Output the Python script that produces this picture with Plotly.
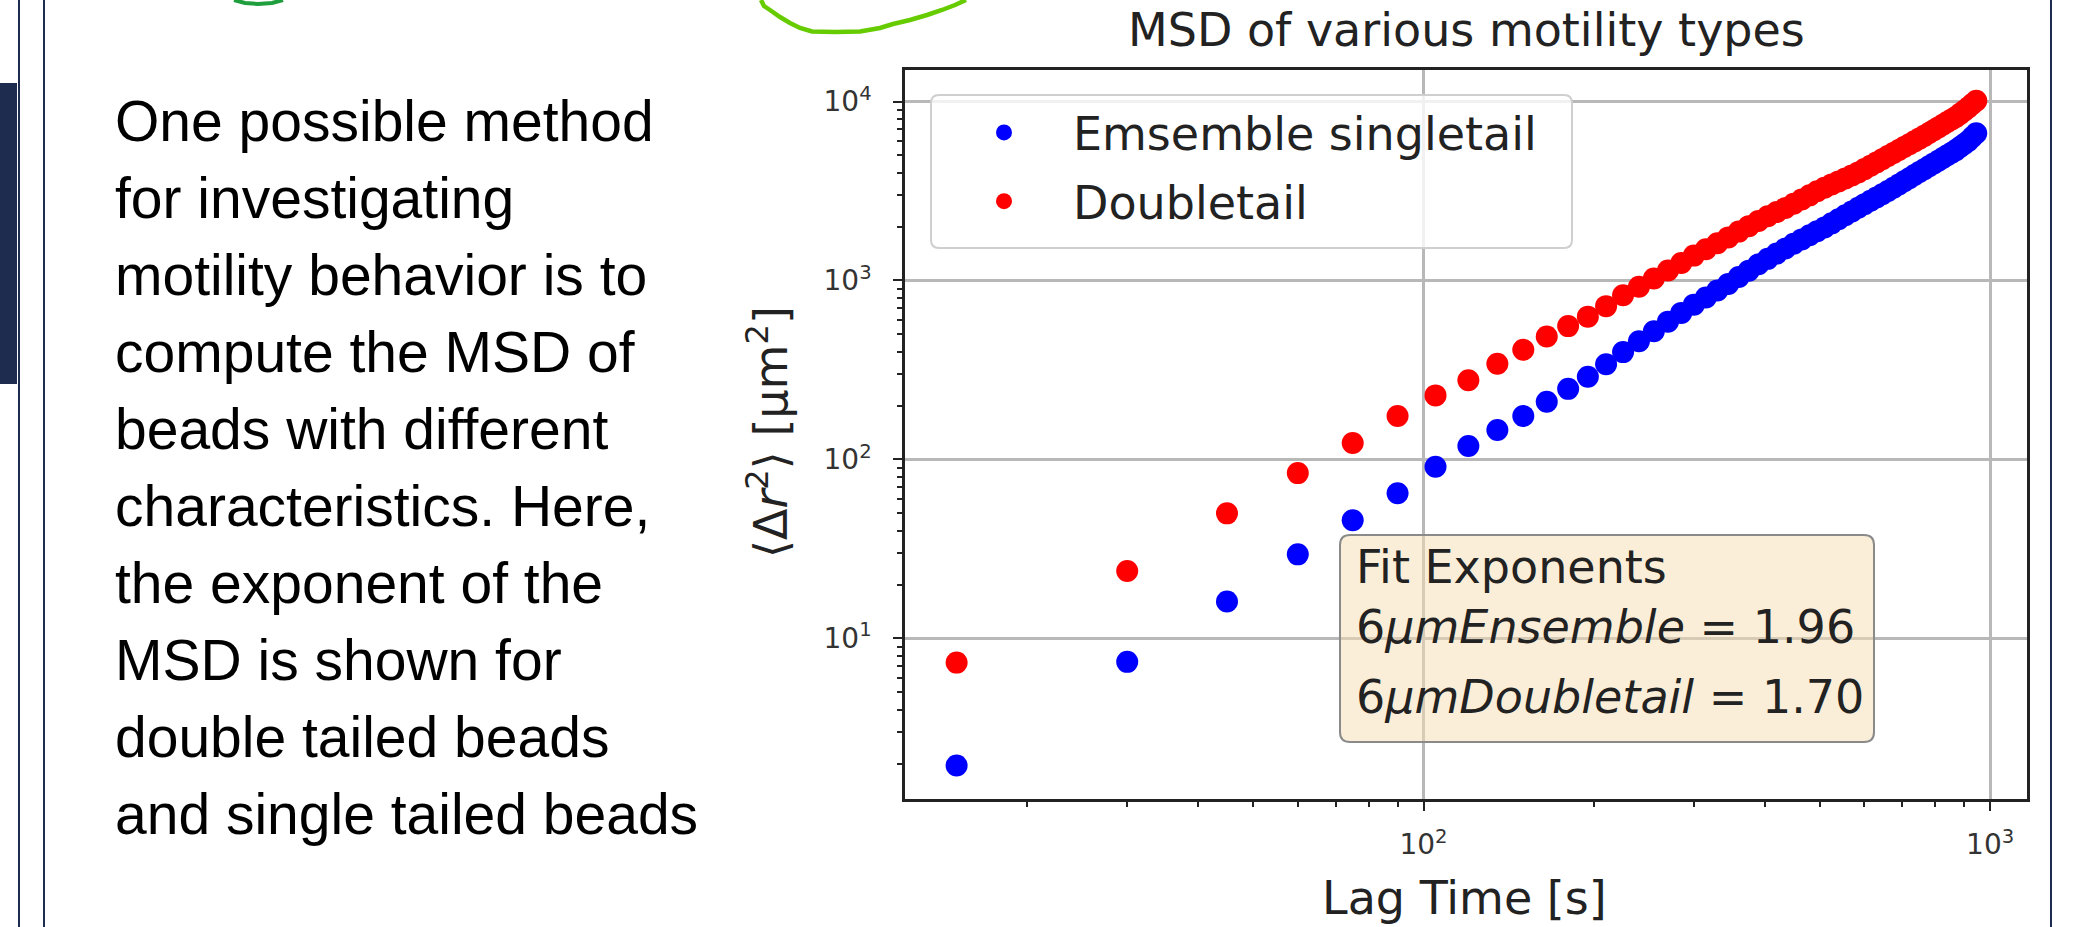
import plotly.graph_objects as go

W, H = 2084, 927

# ---------------- data ----------------
lag_time = [15, 30, 45, 60, 75, 90, 105, 120, 135, 150, 165, 180, 195, 210, 225, 240,
            255, 270, 285, 300, 315, 330, 345, 360, 375, 390, 405, 420, 435, 450, 465,
            480, 495, 510, 525, 540, 555, 570, 585, 600, 615, 630, 645, 660, 675, 690,
            705, 720, 735, 750, 765, 780, 795, 810, 825, 840, 855, 870, 885, 900, 915,
            930, 945]
msd_singletail = [1.95, 7.4, 16.1, 29.5, 45.8, 64.7, 91, 119, 146, 175, 210, 248, 290, 340,
                  398, 458, 520, 589, 659, 733, 804, 879, 957, 1045, 1135, 1231, 1321, 1413,
                  1509, 1604, 1697, 1791, 1887, 1977, 2085, 2197, 2312, 2431, 2552, 2670,
                  2789, 2911, 3034, 3162, 3296, 3436, 3581, 3728, 3880, 4033, 4188, 4345,
                  4506, 4670, 4833, 5003, 5176, 5350, 5570, 5795, 6015, 6330, 6640]
msd_doubletail = [7.33, 23.8, 50, 83.9, 123.6, 175, 228, 277, 343, 410, 487, 556, 628, 719,
                  826, 923, 1026, 1136, 1253, 1377, 1494, 1615, 1741, 1875, 2012, 2153, 2283,
                  2410, 2544, 2682, 2835, 2990, 3150, 3296, 3436, 3573, 3714, 3857, 4008,
                  4191, 4375, 4560, 4759, 4955, 5152, 5356, 5565, 5774, 5988, 6205, 6428,
                  6668, 6918, 7166, 7418, 7674, 7937, 8205, 8530, 8872, 9248, 9680, 10090]
series_names = ["Emsemble singletail", "Doubletail"]
fit_lines = ["Fit Exponents",
             "6<i>μmEnsemble</i> = 1.96",
             "6<i>μmDoubletail</i> = 1.70"]
x_major = [100, 1000]
x_major_text = ["10<sup>2</sup>", "10<sup>3</sup>"]
y_major = [10, 100, 1000, 10000]
y_major_text = ["10<sup>1</sup>", "10<sup>2</sup>", "10<sup>3</sup>", "10<sup>4</sup>"]
x_minor = [20, 30, 40, 50, 60, 70, 80, 90, 200, 300, 400, 500, 600, 700, 800, 900]
y_minor = [2, 3, 4, 5, 6, 7, 8, 9, 20, 30, 40, 50, 60, 70, 80, 90,
           200, 300, 400, 500, 600, 700, 800, 900, 2000, 3000, 4000, 5000, 6000, 7000, 8000, 9000]
slide_lines = ["One possible method", "for investigating", "motility behavior is to",
               "compute the MSD of", "beads with different", "characteristics. Here,",
               "the exponent of the", "MSD is shown for", "double tailed beads",
               "and single tailed beads"]
chart_title = "MSD of various motility types"
x_title = "Lag Time [s]"
y_title = "⟨Δ<i>r</i><sup>2</sup>⟩ [μm<sup>2</sup>]"


# ---------------- helpers (pixel -> paper) ----------------
def fx(x):
    return x / W


def fy(y):
    return 1 - y / H


def rounded_rect(x0, y0, x1, y1, r):
    p = [
        (x0 + r, y0), (x1 - r, y0), (x1, y0), (x1, y0 + r),
        (x1, y1 - r), (x1, y1), (x1 - r, y1),
        (x0 + r, y1), (x0, y1), (x0, y1 - r),
        (x0, y0 + r), (x0, y0), (x0 + r, y0),
    ]
    c = [(fx(a), fy(b)) for a, b in p]
    s = f"M {c[0][0]},{c[0][1]} L {c[1][0]},{c[1][1]} Q {c[2][0]},{c[2][1]} {c[3][0]},{c[3][1]} "
    s += f"L {c[4][0]},{c[4][1]} Q {c[5][0]},{c[5][1]} {c[6][0]},{c[6][1]} "
    s += f"L {c[7][0]},{c[7][1]} Q {c[8][0]},{c[8][1]} {c[9][0]},{c[9][1]} "
    s += f"L {c[10][0]},{c[10][1]} Q {c[11][0]},{c[11][1]} {c[12][0]},{c[12][1]} Z"
    return s


def poly(points):
    c = [(fx(a), fy(b)) for a, b in points]
    return "M " + " L ".join(f"{a},{b}" for a, b in c)


TXT = "#222222"
NAVY = "#1e2d4f"
DJ = "DejaVu Sans"

fig = go.Figure()
fig.add_trace(go.Scatter(x=lag_time, y=msd_singletail, mode="markers", name=series_names[0],
                         legendgroup="a",
                         marker=dict(color="#0000ff", size=22, line=dict(width=0))))
fig.add_trace(go.Scatter(x=lag_time, y=msd_doubletail, mode="markers", name=series_names[1],
                         legendgroup="b",
                         marker=dict(color="#ff0000", size=22, line=dict(width=0))))

axis_common = dict(
    type="log", showline=True, mirror=True, linecolor="#222222", linewidth=2.5,
    showgrid=True, gridcolor="#b8b8b8", gridwidth=2.5,
    ticks="outside", ticklen=9, tickwidth=2, tickcolor="#222222",
    tickfont=dict(family=DJ, size=28, color="#333333"), zeroline=False,
)

fig.update_layout(
    width=W, height=H, autosize=False,
    margin=dict(l=0, r=0, t=0, b=0),
    paper_bgcolor="white", plot_bgcolor="white",
    showlegend=True,
    xaxis=dict(axis_common, domain=[fx(905), fx(2027)], range=[1.085, 3.065],
               tickvals=x_major, ticktext=x_major_text, ticklabelstandoff=10,
               minor=dict(tickvals=x_minor, ticks="outside", ticklen=5, tickwidth=1.5,
                          tickcolor="#222222", showgrid=False)),
    yaxis=dict(axis_common, domain=[fy(799), fy(70)], range=[0.103, 4.176],
               tickvals=y_major, ticktext=y_major_text, ticklabelstandoff=16,
               minor=dict(tickvals=y_minor, ticks="outside", ticklen=5, tickwidth=1.5,
                          tickcolor="#222222", showgrid=False)),
    legend=dict(x=fx(935), y=fy(96), xanchor="left", yanchor="top",
                bgcolor="rgba(0,0,0,0)", borderwidth=0,
                font=dict(family=DJ, size=46, color=TXT),
                itemwidth=128, traceorder="grouped", tracegroupgap=6),
)

shapes = []
# slide decorations
shapes.append(dict(type="rect", xref="paper", yref="paper", x0=fx(0), x1=fx(17), y0=fy(384), y1=fy(83),
                   fillcolor=NAVY, line=dict(width=0), layer="above"))
for xl in (19, 44):
    shapes.append(dict(type="line", xref="paper", yref="paper", x0=fx(xl), x1=fx(xl), y0=0, y1=1,
                       line=dict(color=NAVY, width=2)))
shapes.append(dict(type="line", xref="paper", yref="paper", x0=fx(2051), x1=fx(2051), y0=0, y1=1,
                   line=dict(color=NAVY, width=2)))
# green pen scribbles
shapes.append(dict(type="path", xref="paper", yref="paper",
                   path=poly([(234, 0), (245, 3), (258, 4), (272, 3), (283, 0)]),
                   line=dict(color="#1f9e3e", width=4)))
shapes.append(dict(type="path", xref="paper", yref="paper",
                   path=poly([(761, 0), (764, 6), (770, 10), (780, 17), (790, 23), (800, 28),
                              (812, 31.5), (835, 32), (860, 31.5), (880, 28), (893, 24),
                              (910, 20), (927, 15), (942, 10), (955, 5), (966, 0)]),
                   line=dict(color="#66cc00", width=4.5)))
# legend box
shapes.append(dict(type="path", xref="paper", yref="paper", path=rounded_rect(931, 95, 1572, 248, 8),
                   fillcolor="rgba(255,255,255,0.8)", line=dict(color="#cfcfcf", width=2), layer="above"))
# fit exponents box
shapes.append(dict(type="path", xref="paper", yref="paper", path=rounded_rect(1340, 535, 1874, 742, 10),
                   fillcolor="rgba(245,222,179,0.5)", line=dict(color="#8a8a8a", width=2), layer="above"))
fig.update_layout(shapes=shapes)

ann = []
# slide text
for i, line in enumerate(slide_lines):
    base = 140 + 77 * i
    ann.append(dict(text=line, xref="paper", yref="paper", x=fx(113), y=fy(base - 19),
                    xanchor="left", yanchor="middle", showarrow=False,
                    font=dict(family="Liberation Sans", size=57, color="#000000")))
# chart title
ann.append(dict(text=chart_title, xref="paper", yref="paper", x=fx(1466), y=fy(30),
                xanchor="center", yanchor="middle", showarrow=False,
                font=dict(family=DJ, size=46, color=TXT)))
# axis titles
ann.append(dict(text=x_title, xref="paper", yref="paper", x=fx(1464), y=fy(898),
                xanchor="center", yanchor="middle", showarrow=False,
                font=dict(family=DJ, size=46, color=TXT)))
ann.append(dict(text=y_title, xref="paper", yref="paper", x=fx(768), y=fy(432),
                xanchor="center", yanchor="middle", showarrow=False, textangle=-90,
                font=dict(family=DJ, size=46, color=TXT)))
# fit text
for yc, line in zip([567, 627, 697], fit_lines):
    ann.append(dict(text=line, xref="paper", yref="paper", x=fx(1354), y=fy(yc),
                    xanchor="left", yanchor="middle", showarrow=False,
                    font=dict(family=DJ, size=46, color=TXT)))
fig.update_layout(annotations=ann)

fig.write_html("out.html", config={"displayModeBar": False},
               post_script="document.body.style.margin='0';document.body.style.overflow='hidden';")
